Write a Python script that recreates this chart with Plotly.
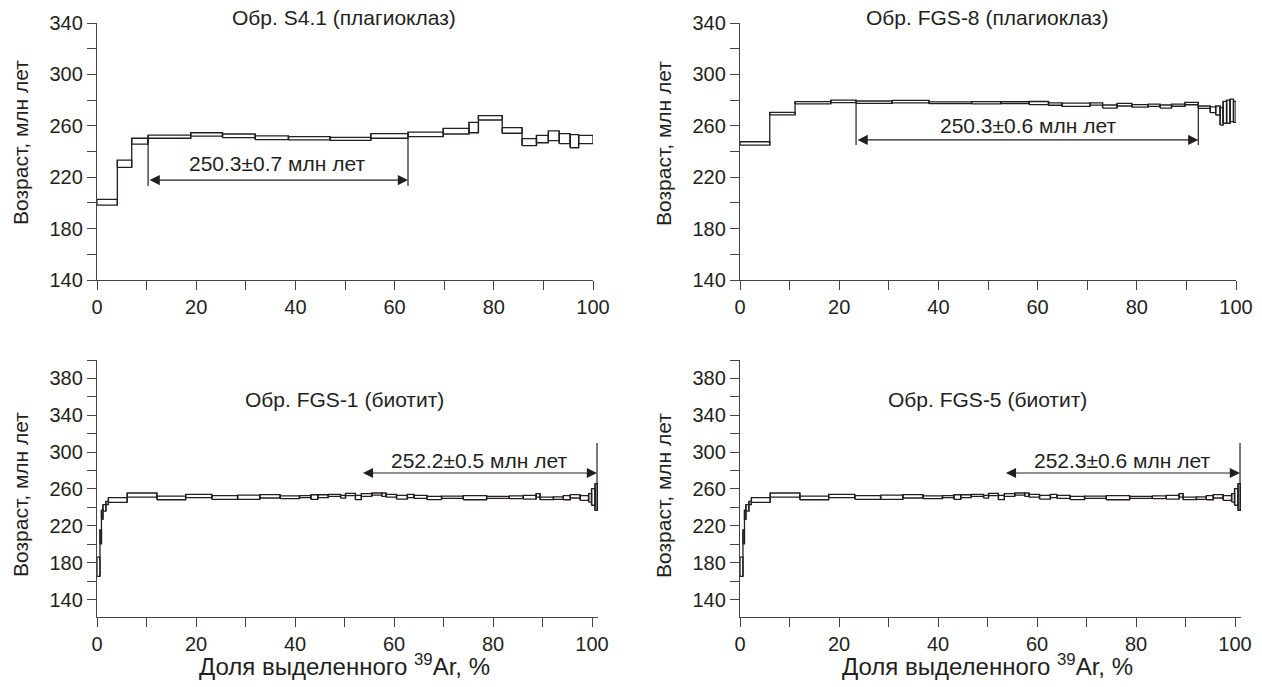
import plotly.graph_objects as go

W, H = 1262, 687

# ---------------- data ----------------
# S4.1 (plagioclase): cumulative 39Ar boundaries (%), ages (Ma), 1-sigma half-width (Ma)
s41_bounds = [0, 4.1, 7.0, 10.3, 18.9, 25.3, 31.9, 38.6, 47.0, 55.2, 62.7, 69.8, 75.0,
              76.9, 81.7, 85.7, 88.6, 91.0, 93.2, 95.4, 97.1, 100]
s41_age = [200.5, 230.5, 248.0, 251.5, 253.3, 252.2, 250.7, 250.3, 249.8, 252.1, 253.3,
           255.8, 258.6, 266.2, 256.4, 247.3, 249.7, 252.2, 250.0, 248.0, 249.3]
s41_err = [2.2, 2.8, 2.3, 1.2, 1.3, 1.4, 1.5, 1.3, 1.2, 1.8, 1.8, 2.2, 4.0, 1.7, 2.2,
           2.7, 2.9, 3.8, 3.9, 5.1, 3.2]
s41_plateau = [10.3, 62.7]
s41_label = "250.3±0.7 млн лет"

# FGS-8 (plagioclase)
fgs8_bounds = [0, 6.0, 11.1, 18.3, 23.4, 30.7, 38.1, 46.7, 52.6, 58.3, 62.2, 64.9, 70.6,
               73.1, 76.0, 79.0, 82.3, 84.7, 87.0, 89.7, 92.4, 94.8, 95.9, 96.8, 97.4,
               98.1, 98.8, 99.5, 100]
fgs8_age = [246.3, 269.5, 277.9, 279.0, 278.4, 278.8, 277.9, 277.9, 278.0, 277.7, 276.9,
            276.4, 277.0, 275.0, 276.4, 275.5, 276.0, 275.0, 276.0, 277.3, 274.5, 272.5,
            271.9, 267.4, 270.5, 271.0, 272.0, 270.8]
fgs8_err = [1.3, 1.0, 0.9, 1.0, 0.9, 1.0, 0.7, 0.9, 0.7, 1.2, 0.9, 1.3, 0.9, 1.2, 1.0,
            1.0, 0.9, 1.2, 0.8, 0.9, 0.9, 2.2, 3.5, 6.8, 8.5, 9.0, 8.7, 8.2]
fgs8_plateau = [23.4, 92.4]
fgs8_label = "250.3±0.6 млн лет"

# FGS-1 (biotite)
fgs1_bounds = [0, 0.6, 0.9, 1.2, 1.8, 2.3, 6.1, 12.1, 17.9, 23.2, 28.4, 32.9, 37.0, 40.9,
               43.2, 44.6, 46.7, 49.2, 50.2, 52.2, 53.4, 55.5, 57.5, 58.4, 60.5, 62.7,
               64.0, 66.7, 69.6, 74.0, 78.7, 83.3, 86.1, 88.7, 89.5, 92.2, 94.2, 95.6,
               97.6, 99.3, 99.9, 100.6, 101.1]
fgs1_age = [175.5, 208.0, 232.0, 239.4, 244.7, 248.0, 253.4, 250.3, 252.3, 250.7, 251.0,
            252.0, 251.0, 251.6, 251.2, 252.1, 253.0, 251.6, 254.0, 250.7, 253.5, 254.5,
            253.8, 252.6, 251.0, 252.3, 251.4, 250.2, 251.0, 250.5, 250.9, 250.9, 251.0,
            253.1, 249.8, 250.0, 250.5, 252.0, 250.2, 250.4, 251.3, 251.2]
fgs1_err = [10.5, 7.6, 5.0, 3.5, 1.8, 2.5, 2.2, 2.0, 1.8, 2.0, 2.3, 1.8, 1.6, 1.1, 2.5,
            1.6, 1.1, 1.5, 1.3, 2.3, 1.5, 1.1, 1.8, 1.5, 2.0, 1.8, 1.6, 1.8, 1.3, 2.2,
            1.1, 1.5, 2.0, 1.9, 1.4, 1.4, 2.2, 1.8, 2.5, 4.6, 9.0, 14.5]
fgs1_plateau = [53.4, 101.0]
fgs1_label = "252.2±0.5 млн лет"

# FGS-5 (biotite)
fgs5_bounds = [0, 0.6, 0.9, 1.2, 1.8, 2.3, 6.1, 12.1, 17.9, 23.2, 28.4, 32.9, 37.0, 40.9,
               43.2, 44.6, 46.7, 49.2, 50.2, 52.2, 53.4, 55.5, 57.5, 58.4, 60.5, 62.7,
               64.0, 66.7, 69.6, 74.0, 78.7, 83.3, 86.1, 88.7, 89.5, 92.2, 94.2, 95.6,
               97.6, 99.3, 99.9, 100.6, 101.1]
fgs5_age = [175.5, 208.0, 232.0, 239.4, 244.7, 248.0, 253.4, 250.3, 252.3, 250.7, 251.0,
            252.0, 251.0, 251.6, 251.2, 252.1, 253.0, 251.6, 254.0, 250.7, 253.5, 254.5,
            253.8, 252.6, 251.0, 252.3, 251.4, 250.2, 251.0, 250.5, 250.9, 250.9, 251.0,
            253.1, 249.8, 250.0, 250.5, 252.0, 250.2, 250.4, 251.3, 251.2]
fgs5_err = [10.5, 7.6, 5.0, 3.5, 1.8, 2.5, 2.2, 2.0, 1.8, 2.0, 2.3, 1.8, 1.6, 1.1, 2.5,
            1.6, 1.1, 1.5, 1.3, 2.3, 1.5, 1.1, 1.8, 1.5, 2.0, 1.8, 1.6, 1.8, 1.3, 2.2,
            1.1, 1.5, 2.0, 1.9, 1.4, 1.4, 2.2, 1.8, 2.5, 4.6, 9.0, 14.5]
fgs5_plateau = [53.4, 101.0]
fgs5_label = "252.3±0.6 млн лет"

titles = ["Обр. S4.1 (плагиоклаз)", "Обр. FGS-8 (плагиоклаз)",
          "Обр. FGS-1 (биотит)", "Обр. FGS-5 (биотит)"]
ytitle = "Возраст, млн лет"
xtitle = "Доля выделенного <sup>39</sup>Ar, %"

# ---------------- layout helpers ----------------
FONT = "Liberation Sans, Arial, sans-serif"
INK = "#231f20"
AX = "#444444"
FT = 20   # tick labels
FS = 21   # other texts
FX = 24   # x-axis title


def px_x(p):
    return p / W


def px_y(p):
    return 1 - p / H


panels = [
    dict(b=s41_bounds, a=s41_age, e=s41_err, pl=s41_plateau, lab=s41_label,
         xd=(97, 593), yd=(23, 280), xr=[0, 100], yr=[140, 340],
         arrow=217.8, vbot=213.2, labxy=(36.3, 231.0), rtop=None),
    dict(b=fgs8_bounds, a=fgs8_age, e=fgs8_err, pl=fgs8_plateau, lab=fgs8_label,
         xd=(740, 1236), yd=(23, 280), xr=[0, 100], yr=[140, 340],
         arrow=249.0, vbot=245.0, labxy=(58.0, 260.6), rtop=None),
    dict(b=fgs1_bounds, a=fgs1_age, e=fgs1_err, pl=fgs1_plateau, lab=fgs1_label,
         xd=(97, 598), yd=(360, 617), xr=[0, 101.2], yr=[121, 400],
         arrow=277.3, vbot=253.5, labxy=(77.2, 290.4), rtop=(309.9, 236.1)),
    dict(b=fgs5_bounds, a=fgs5_age, e=fgs5_err, pl=fgs5_plateau, lab=fgs5_label,
         xd=(740, 1241), yd=(360, 617), xr=[0, 101.2], yr=[121, 400],
         arrow=277.3, vbot=253.5, labxy=(77.2, 290.4), rtop=(309.9, 236.1)),
]

fig = go.Figure()
annotations = []
shapes = []

for i, P in enumerate(panels):
    n = i + 1
    xa = "x" if n == 1 else f"x{n}"
    ya = "y" if n == 1 else f"y{n}"
    xs, ys = [], []
    nst = len(P["a"])
    for k in range(nst):
        x0, x1 = P["b"][k], P["b"][k + 1]
        lo, hi = P["a"][k] - P["e"][k], P["a"][k] + P["e"][k]
        xs += [x0, x1, x1, x0, x0, None]
        ys += [lo, lo, hi, hi, lo, None]
        if k + 1 < nst:
            lo2 = P["a"][k + 1] - P["e"][k + 1]
            hi2 = P["a"][k + 1] + P["e"][k + 1]
            xs += [x1, x1, None]
            ys += [min(lo, lo2), max(hi, hi2), None]
    fig.add_trace(go.Scatter(x=xs, y=ys, mode="lines", xaxis=xa, yaxis=ya,
                             line=dict(color=INK, width=1.3), hoverinfo="skip",
                             showlegend=False))

    top = n <= 2
    axis_common = dict(showgrid=False, zeroline=False, showline=True, linecolor=AX,
                       linewidth=1.4, ticks="outside", ticklen=9, tickwidth=1.3,
                       tickcolor=AX, automargin=False,
                       tickfont=dict(family=FONT, size=FT, color=INK))
    xkey = "xaxis" if n == 1 else f"xaxis{n}"
    ykey = "yaxis" if n == 1 else f"yaxis{n}"
    fig.update_layout({
        xkey: dict(axis_common, domain=[px_x(P["xd"][0]), px_x(P["xd"][1])],
                   range=P["xr"], anchor=ya, tick0=0, dtick=20,
                   minor=dict(dtick=10, ticks="outside", ticklen=9, tickwidth=1.3,
                              tickcolor=AX, showgrid=False)),
        ykey: dict(axis_common, domain=[px_y(P["yd"][1]), px_y(P["yd"][0])],
                   range=P["yr"], anchor=xa, tick0=140, dtick=40,
                   minor=dict(tick0=140, dtick=20, ticks="outside", ticklen=9,
                              tickwidth=1.3, tickcolor=AX, showgrid=False)),
    })

    # plateau arrow
    p0, p1 = P["pl"]
    annotations.append(dict(x=p1, y=P["arrow"], ax=p0, ay=P["arrow"], xref=xa, yref=ya,
                            axref=xa, ayref=ya, text="", showarrow=True,
                            arrowside="end+start", arrowhead=2, arrowsize=1.7,
                            arrowwidth=1.2, arrowcolor=INK, standoff=0, startstandoff=0))
    # vertical delimiters
    kL = P["b"].index(p0)
    left_top = P["a"][kL] - P["e"][kL]
    shapes.append(dict(type="line", xref=xa, yref=ya, x0=p0, x1=p0, y0=P["vbot"],
                       y1=left_top, line=dict(color=INK, width=1.2)))
    if P["rtop"] is None:
        kR = max(j for j in range(nst) if P["b"][j + 1] <= p1 + 0.05)
        right_top = P["a"][kR] - P["e"][kR]
        shapes.append(dict(type="line", xref=xa, yref=ya, x0=p1, x1=p1, y0=P["vbot"],
                           y1=right_top, line=dict(color=INK, width=1.2)))
    else:
        shapes.append(dict(type="line", xref=xa, yref=ya, x0=p1, x1=p1, y0=P["rtop"][1],
                           y1=P["rtop"][0], line=dict(color=INK, width=1.2)))
    annotations.append(dict(x=P["labxy"][0], y=P["labxy"][1], xref=xa, yref=ya,
                            text=P["lab"], showarrow=False,
                            font=dict(family=FONT, size=FS, color=INK)))

    # panel title
    cx = 344 if n in (1, 3) else 988
    cy = 18 if top else 400
    annotations.append(dict(x=px_x(cx), y=px_y(cy), xref="paper", yref="paper",
                            text=titles[i], showarrow=False, xanchor="center",
                            yanchor="middle",
                            font=dict(family=FONT, size=FS, color=INK)))
    # y title
    ycx = 20 if n in (1, 3) else 663
    ycy = 143 if top else 495
    annotations.append(dict(x=px_x(ycx), y=px_y(ycy), xref="paper", yref="paper",
                            text=ytitle, textangle=-90, showarrow=False,
                            xanchor="center", yanchor="middle",
                            font=dict(family=FONT, size=FS, color=INK)))
    if not top:
        annotations.append(dict(x=px_x(cx), y=px_y(665), xref="paper", yref="paper",
                                text=xtitle, showarrow=False, xanchor="center",
                                yanchor="middle",
                                font=dict(family=FONT, size=FX, color=INK)))

fig.update_layout(template="none", width=W, height=H,
                  margin=dict(l=0, r=0, t=0, b=0, autoexpand=False),
                  paper_bgcolor="white", plot_bgcolor="white",
                  annotations=annotations, shapes=shapes, showlegend=False,
                  font=dict(family=FONT, size=FS, color=INK))

fig.write_html("out.html", config={"displayModeBar": False},
               post_script="document.body.style.margin='0';"
                           "document.body.style.overflow='hidden';")
